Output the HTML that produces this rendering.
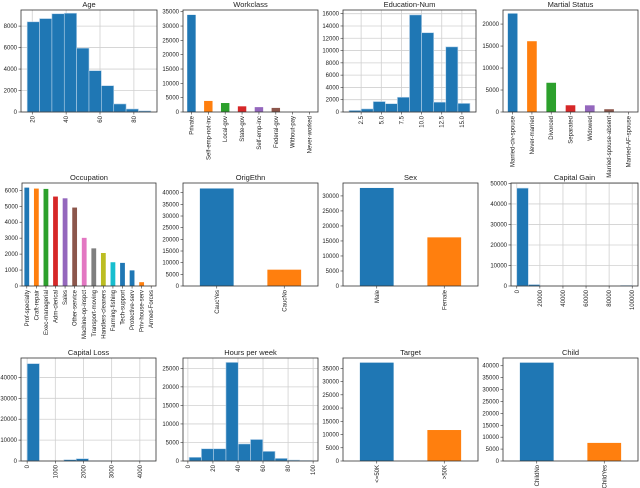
<!DOCTYPE html>
<html><head><meta charset="utf-8"><style>
body{margin:0;background:#fff}
svg{display:block;font-family:"Liberation Sans","DejaVu Sans",sans-serif}
</style></head><body>
<svg id="c" width="640" height="488" xmlns="http://www.w3.org/2000/svg"></svg>
<script>
const ageValues=[8400,8700,9150,9200,5950,3850,2450,750,280,100];
const workclassCats=["Private","Self-emp-not-inc","Local-gov","State-gov","Self-emp-inc","Federal-gov","Without-pay","Never-worked"];
const workclassValues=[33900,3860,3130,1980,1700,1430,20,10];
const eduValues=[250,500,1700,1350,2400,15800,12900,1600,10600,1400];
const maritalCats=["Married-civ-spouse","Never-married","Divorced","Separated","Widowed","Married-spouse-absent","Married-AF-spouse"];
const maritalValues=[22400,16100,6650,1530,1520,630,37];
const occCats=["Prof-specialty","Craft-repair","Exec-managerial","Adm-clerical","Sales","Other-service","Machine-op-inspct","Transport-moving","Handlers-cleaners","Farming-fishing","Tech-support","Protective-serv","Priv-house-serv","Armed-Forces"];
const occValues=[6170,6110,6090,5610,5500,4920,3020,2360,2070,1490,1450,980,240,15];
const ethnCats=["CaucYes","CaucNo"];
const ethnValues=[41800,7000];
const sexCats=["Male","Female"];
const sexValues=[32650,16200];
const gainValues=[47700,700,0,0,0,0,0,0,0,250];
const lossValues=[46600,0,0,620,1100,100,20,0,0,5];
const hoursValues=[1000,3300,3300,26600,4600,5800,2600,700,250,120];
const targetCats=["<=50K",">50K"];
const targetValues=[37150,11700];
const childCats=["ChildNo","ChildYes"];
const childValues=[41300,7600];

const C=["#1f77b4","#ff7f0e","#2ca02c","#d62728","#9467bd","#8c564b","#e377c2","#7f7f7f","#bcbd22","#17becf","#1f77b4","#1f77b4","#ff7f0e","#ff7f0e"];
const NS="http://www.w3.org/2000/svg";
const svg=document.getElementById('c');
function mk(tag,attrs,parent){const e=document.createElementNS(NS,tag);for(const k in attrs)e.setAttribute(k,attrs[k]);(parent||svg).appendChild(e);return e;}
function range(a,b,s){const r=[];for(let v=a;v<=b+1e-9;v+=s)r.push(v);return r;}

function panel(o){
  const g=mk('g',{});
  
  
  const {l,r,t,b}=o;
  const sy=v=>b-(v/o.ymax)*(b-t);
  let sx;
  if(o.cats){const n=o.cats.length;sx=i=>l+(i+0.5)/n*(r-l);}
  else sx=v=>l+(v-o.xmin)/(o.xmax-o.xmin)*(r-l);
  // grid
  if(o.grid){
    o.xt.forEach(v=>{const x=sx(v);const gl=mk('line',{x1:x,x2:x,y1:t,y2:b,stroke:'#d0d0d0','stroke-width':0.8},g);});
    o.yt.forEach(v=>{const y=sy(v);const gl=mk('line',{x1:l,x2:r,y1:y,y2:y,stroke:'#d0d0d0','stroke-width':0.8},g);});
  }
  // bars
  if(o.cats){
    const n=o.cats.length,w=(r-l)/n*0.5;
    o.vals.forEach((v,i)=>{const x=sx(i);const y=sy(v);
      const rc=mk('rect',{x:x-w/2,y:y,width:w,height:b-y,fill:o.colors?o.colors[i]:C[i]},g);
      
      
    });
  } else {
    const bw=(o.hmax-o.hmin)/o.vals.length;
    o.vals.forEach((v,i)=>{const x0=sx(o.hmin+i*bw),x1=sx(o.hmin+(i+1)*bw);const y=sy(v);
      const rc=mk('rect',{x:x0,y:y,width:x1-x0,height:b-y,fill:'#1f77b4',stroke:'#b8d3ea','stroke-width':0.6},g);
      
      
    });
  }
  // frame
  const fr=mk('rect',{x:l,y:t,width:r-l,height:b-t,fill:'none',stroke:'#333','stroke-width':0.8},g);
  
  
  // y ticks
  o.yt.forEach(v=>{const y=sy(v);
    mk('line',{x1:l-2.5,x2:l,y1:y,y2:y,stroke:'#333','stroke-width':0.6},g);
    const tx=mk('text',{x:l-4,y:y+2,'font-size':6,'text-anchor':'end',fill:'#222'},g);
    tx.textContent=v;
    
    
  });
  // x ticks
  const xl=o.cats?o.cats.map((c,i)=>[i,c]):o.xt.map(v=>[v,o.fmt?o.fmt(v):String(v)]);
  xl.forEach(([v,s])=>{const x=sx(v);
    mk('line',{x1:x,x2:x,y1:b,y2:b+2.5,stroke:'#333','stroke-width':0.6},g);
    const tx=mk('text',{x:0,y:0,'font-size':6,'text-anchor':'end',fill:'#222',transform:`translate(${x+2},${b+4}) rotate(-90)`},g);
    tx.textContent=s;
    
    
  });
  const ti=mk('text',{x:(l+r)/2,y:t-3,'font-size':7.5,'text-anchor':'middle',fill:'#222'},g);
  ti.textContent=o.title;
  
  
}

panel({name:'age',title:'Age',l:21,r:157,t:10,b:112,vals:ageValues,hmin:17,hmax:90,xmin:13.35,xmax:93.65,ymax:9500,grid:1,xt:[20,40,60,80],yt:range(0,8000,2000)});
panel({name:'workclass',title:'Workclass',l:183,r:318,t:10,b:112,cats:workclassCats,vals:workclassValues,ymax:35600,yt:range(0,35000,5000)});
panel({name:'education-num',title:'Education-Num',l:343,r:476,t:10,b:112,vals:eduValues,hmin:1,hmax:16,xmin:0.25,xmax:16.75,ymax:16600,grid:1,xt:[2.5,5,7.5,10,12.5,15],fmt:v=>v.toFixed(1),yt:range(0,16000,2000)});
panel({name:'marital-status',title:'Martial Status',l:503,r:638,t:10,b:112,cats:maritalCats,vals:maritalValues,ymax:23200,yt:range(0,20000,5000)});

panel({name:'occupation',title:'Occupation',l:22,r:156,t:183,b:286,cats:occCats,vals:occValues,ymax:6460,yt:range(0,6000,1000)});
panel({name:'orig-ethn',title:'OrigEthn',l:183,r:318,t:183,b:286,cats:ethnCats,vals:ethnValues,ymax:44150,yt:range(0,40000,5000)});
panel({name:'sex',title:'Sex',l:343,r:478,t:183,b:286,cats:sexCats,vals:sexValues,ymax:34300,yt:range(0,30000,5000)});
panel({name:'capital-gain',title:'Capital Gain',l:511,r:638,t:183,b:286,vals:gainValues,hmin:0,hmax:99999,xmin:-5000,xmax:105000,ymax:50200,grid:1,xt:range(0,100000,20000),yt:range(0,50000,10000)});

panel({name:'capital-loss',title:'Capital Loss',l:21,r:156,t:358,b:461,vals:lossValues,hmin:0,hmax:4356,xmin:-218,xmax:4574,ymax:49300,grid:1,xt:range(0,4000,1000),yt:range(0,40000,10000)});
panel({name:'hours-per-week',title:'Hours per week',l:183,r:318,t:358,b:461,vals:hoursValues,hmin:1,hmax:99,xmin:-3.9,xmax:103.9,ymax:27790,grid:1,xt:range(0,100,20),yt:range(0,25000,5000)});
panel({name:'target',title:'Target',l:343,r:478,t:358,b:461,cats:targetCats,vals:targetValues,ymax:38900,yt:range(0,35000,5000)});
panel({name:'child',title:'Child',l:503,r:638,t:358,b:461,cats:childCats,vals:childValues,ymax:43250,yt:range(0,40000,5000)});
</script>
</body></html>
